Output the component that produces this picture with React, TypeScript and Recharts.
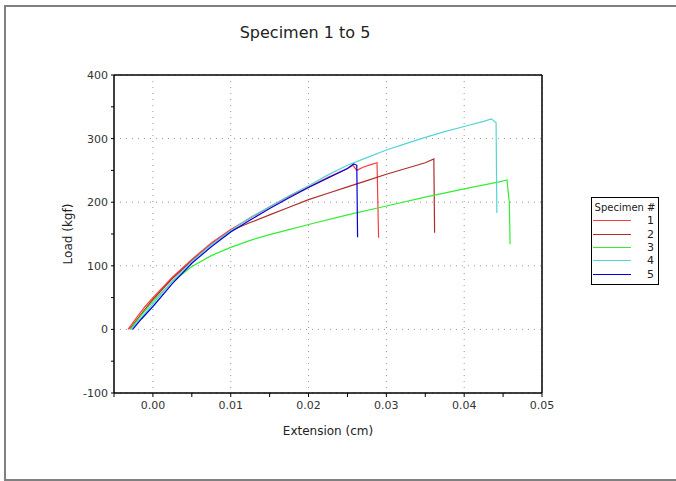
import React from 'react';
import { LineChart, Line, XAxis, YAxis, CartesianGrid, ReferenceLine } from 'recharts';

// Specimen 1
const ext1 = [-0.0032, -0.002, -0.001, 0, 0.0025, 0.005, 0.0075, 0.01, 0.0125, 0.015, 0.0175, 0.02, 0.0225, 0.025, 0.0257, 0.0262, 0.027, 0.028, 0.0288, 0.029];
const load1 = [0, 20, 36, 50, 82, 110, 136, 157, 175, 193, 209, 224, 239, 253, 258, 250, 255, 259, 262, 144];

// Specimen 2
const ext2 = [-0.003, -0.0015, 0, 0.0025, 0.005, 0.0075, 0.01, 0.0125, 0.015, 0.0175, 0.02, 0.0225, 0.025, 0.0275, 0.03, 0.0325, 0.035, 0.0361, 0.0362];
const load2 = [0, 24, 47, 80, 108, 134, 155, 168, 180, 192, 204, 214, 224, 234, 244, 253, 262, 268, 152];

// Specimen 3
const ext3 = [-0.0029, -0.0015, 0, 0.0025, 0.005, 0.0075, 0.01, 0.0125, 0.015, 0.0175, 0.02, 0.025, 0.03, 0.035, 0.04, 0.0445, 0.0455, 0.0458, 0.0459];
const load3 = [0, 22, 44, 75, 99, 116, 129, 140, 149, 157, 165, 180, 194, 208, 221, 232, 235, 200, 134];

// Specimen 4
const ext4 = [-0.0028, -0.0015, 0, 0.0025, 0.005, 0.0075, 0.01, 0.0125, 0.015, 0.0175, 0.02, 0.0225, 0.025, 0.0275, 0.03, 0.0325, 0.035, 0.0375, 0.04, 0.0425, 0.0435, 0.0441, 0.0442];
const load4 = [0, 18, 40, 76, 107, 133, 155, 176, 193, 210, 226, 243, 258, 270, 282, 292, 302, 311, 319, 327, 331, 325, 183];

// Specimen 5
const ext5 = [-0.0026, -0.0015, 0, 0.0025, 0.005, 0.0075, 0.01, 0.0125, 0.015, 0.0175, 0.02, 0.0225, 0.025, 0.0258, 0.0262, 0.0263];
const load5 = [0, 16, 36, 72, 104, 130, 153, 172, 190, 207, 223, 238, 253, 260, 258, 145];

const xTicks = [-0.005, 0, 0.005, 0.01, 0.015, 0.02, 0.025, 0.03, 0.035, 0.04, 0.045, 0.05];
const xMajor = [0, 0.01, 0.02, 0.03, 0.04, 0.05];
const yTicks = [-100, -50, 0, 50, 100, 150, 200, 250, 300, 350, 400];
const yMajor = [-100, 0, 100, 200, 300, 400];

const toPoints = (xs: number[], ys: number[]) => xs.map((x, i) => ({ x, y: ys[i] }));

const series = [
    { name: '1', color: '#ff3c3c', data: toPoints(ext1, load1) },
    { name: '2', color: '#b22c2c', data: toPoints(ext2, load2) },
    { name: '3', color: '#33ee33', data: toPoints(ext3, load3) },
    { name: '4', color: '#55d4d4', data: toPoints(ext4, load4) },
    { name: '5', color: '#0000dd', data: toPoints(ext5, load5) },
];

const font = '"DejaVu Sans", Verdana, sans-serif';

const isMajorX = (v: number) => xMajor.some(m => Math.abs(m - v) < 1e-9);
const isMajorY = (v: number) => yMajor.includes(v);

const App: React.FC = () => {
    return (
        <div style={{ position: 'absolute', left: 0, top: 0, width: 676, height: 481, background: '#fff', overflow: 'hidden', fontFamily: font }}>
            <div style={{ position: 'absolute', left: 4, top: 5, width: 700, height: 476, border: '2px solid #808080', borderRight: 'none', boxSizing: 'border-box' }} />
            <div style={{ position: 'absolute', left: 190, width: 230, top: 23, textAlign: 'center', fontSize: 16, color: '#222' }}>
                Specimen 1 to 5
            </div>
            <LineChart width={676} height={481} data={series[0].data} margin={{ top: 75, right: 134, bottom: 44, left: 0 }}>
                <CartesianGrid
                    stroke="#999"
                    strokeDasharray="1 5"
                    horizontalValues={yMajor}
                    verticalValues={xMajor}
                />
                <XAxis
                    dataKey="x"
                    type="number"
                    domain={[-0.005, 0.05]}
                    ticks={xTicks}
                    interval={0}
                    allowDataOverflow
                    height={44}
                    tickSize={4}
                    tickMargin={4}
                    axisLine={{ stroke: '#000', strokeWidth: 1.5 }}
                    tickLine={{ stroke: '#000' }}
                    tick={{ fontSize: 11, fill: '#333', fontFamily: font }}
                    tickFormatter={(v: number) => (isMajorX(v) ? v.toFixed(2) : '')}
                    label={{ value: 'Extension (cm)', position: 'insideBottom', offset: 2, fontSize: 12, fill: '#222', fontFamily: font }}
                />
                <YAxis
                    dataKey="y"
                    type="number"
                    domain={[-100, 400]}
                    ticks={yTicks}
                    interval={0}
                    allowDataOverflow
                    width={114}
                    tickSize={3}
                    tickMargin={3}
                    axisLine={{ stroke: '#000', strokeWidth: 1.5 }}
                    tickLine={{ stroke: '#000' }}
                    tick={{ fontSize: 11, fill: '#333', fontFamily: font }}
                    tickFormatter={(v: number) => (isMajorY(v) ? String(v) : '')}
                    label={{ value: 'Load  (kgf)', angle: -90, position: 'center', dx: 11, fontSize: 12, fill: '#222', fontFamily: font }}
                />
                <ReferenceLine y={400} stroke="#000" strokeWidth={1.5} />
                <ReferenceLine x={0.05} stroke="#000" strokeWidth={1.5} />
                {series.map(s => (
                    <Line
                        key={s.name}
                        data={s.data}
                        dataKey="y"
                        name={s.name}
                        type="linear"
                        stroke={s.color}
                        strokeWidth={1.2}
                        dot={false}
                        activeDot={false}
                        isAnimationActive={false}
                    />
                ))}
            </LineChart>
            <div style={{ position: 'absolute', left: 591, top: 197, width: 68, height: 88, border: '1px solid #000', boxSizing: 'border-box', background: '#fff', fontSize: 10, color: '#222' }}>
                <div style={{ textAlign: 'center', marginTop: 3, lineHeight: '13px', whiteSpace: 'nowrap' }}>Specimen #</div>
                {series.map(s => (
                    <div key={s.name} style={{ display: 'flex', alignItems: 'center', height: 13.4 }}>
                        <div style={{ width: 38, marginLeft: 1, borderTop: `1.5px solid ${s.color}` }} />
                        <span style={{ marginLeft: 16, lineHeight: '13px', fontSize: 11 }}>{s.name}</span>
                    </div>
                ))}
            </div>
        </div>
    );
};

export default App;
